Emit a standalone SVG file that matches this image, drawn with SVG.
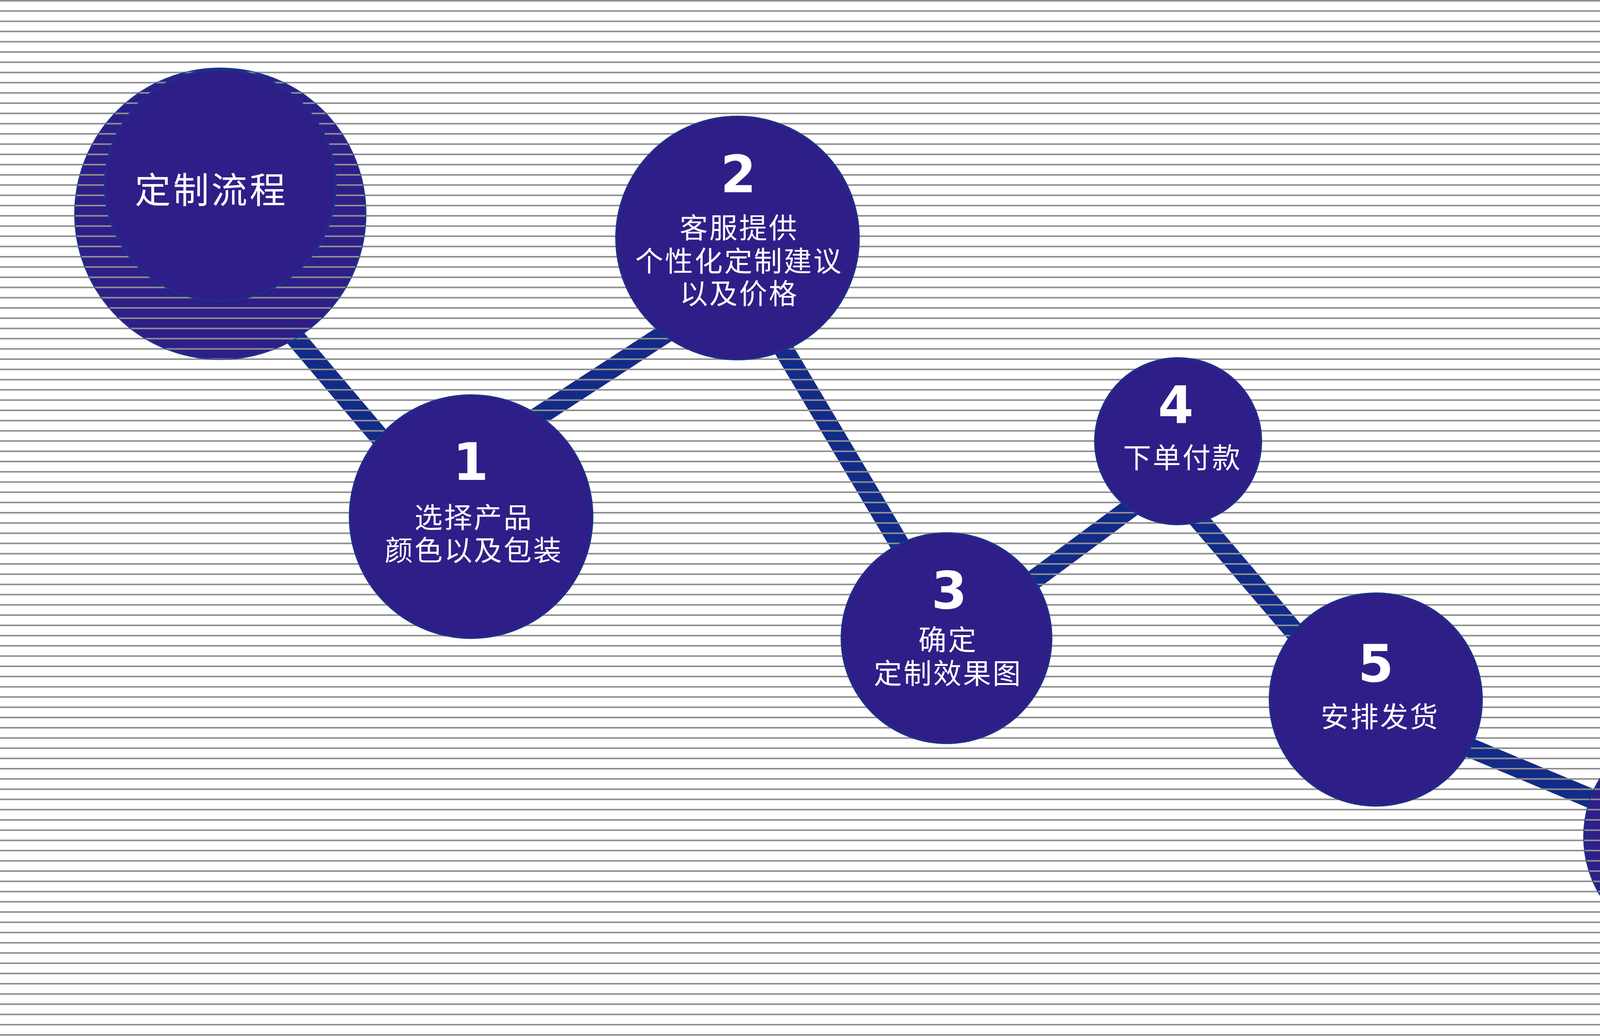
<svg xmlns="http://www.w3.org/2000/svg" xmlns:xlink="http://www.w3.org/1999/xlink" width="4785" height="2651" viewBox="0 0 4785 2651">
<style>
.conn{stroke:#132b88;stroke-width:50;stroke-linecap:butt;fill:none}
.disc{fill:#2e1f88;stroke:#1c3189;stroke-width:4}
.stripe{stroke:#8f8f8f;stroke-width:4;fill:none}
.stripe2{stroke:#d4d4d4;stroke-width:1.2;fill:none}
.num{font-family:"DejaVu Sans",Verdana,sans-serif;font-weight:bold;font-size:131px;fill:#ffffff;text-anchor:middle}
.lbl{font-family:"Noto Sans CJK SC","Noto Sans",sans-serif;font-size:72px;letter-spacing:4px;fill:#ffffff;text-anchor:middle}
.ttl{font-family:"Noto Sans CJK SC","Noto Sans",sans-serif;font-size:92px;letter-spacing:6px;fill:#ffffff;text-anchor:middle}
</style>
<defs>
<g id="stripes">
<path class="stripe" d="M0 2H4785M0 28.2H4785M0 54.4H4785M0 80.6H4785M0 106.8H4785M0 133H4785M0 159.2H4785M0 185.4H4785M0 211.6H4785M0 237.8H4785M0 264H4785M0 290.2H4785M0 316.4H4785M0 342.6H4785M0 368.8H4785M0 395H4785M0 421.2H4785M0 447.4H4785M0 473.6H4785M0 499.8H4785M0 526H4785M0 552.2H4785M0 578.4H4785M0 604.6H4785M0 630.8H4785M0 657H4785M0 683.2H4785M0 709.4H4785M0 735.6H4785M0 761.8H4785M0 788H4785M0 814.2H4785M0 840.4H4785M0 866.6H4785M0 892.8H4785M0 919H4785M0 945.2H4785M0 971.4H4785M0 997.6H4785M0 1023.8H4785M0 1050H4785M0 1076.2H4785M0 1102.4H4785M0 1128.6H4785M0 1154.8H4785M0 1181H4785M0 1207.2H4785M0 1233.4H4785M0 1259.6H4785M0 1285.8H4785M0 1312H4785M0 1338.2H4785M0 1364.4H4785M0 1390.6H4785M0 1416.8H4785M0 1443H4785M0 1469.2H4785M0 1495.4H4785M0 1521.6H4785M0 1547.8H4785M0 1574H4785M0 1600.2H4785M0 1626.4H4785M0 1652.6H4785M0 1678.8H4785M0 1705H4785M0 1731.2H4785M0 1757.4H4785M0 1783.6H4785M0 1809.8H4785M0 1836H4785M0 1862.2H4785M0 1888.4H4785M0 1914.6H4785M0 1940.8H4785M0 1967H4785M0 1993.2H4785M0 2019.4H4785M0 2045.6H4785M0 2071.8H4785M0 2098H4785M0 2124.2H4785M0 2150.4H4785M0 2176.6H4785M0 2202.8H4785M0 2229H4785M0 2255.2H4785M0 2281.4H4785M0 2307.6H4785M0 2333.8H4785M0 2360H4785M0 2386.2H4785M0 2412.4H4785M0 2438.6H4785M0 2464.8H4785M0 2491H4785M0 2517.2H4785M0 2543.4H4785M0 2569.6H4785M0 2595.8H4785M0 2622H4785M0 2648.2H4785"/>
</g>
<clipPath id="clipStart"><circle cx="564" cy="547" r="372"/></clipPath>
<clipPath id="clipEnd"><circle cx="4343" cy="2141" r="288"/></clipPath>
</defs>
<rect x="0" y="0" width="4785" height="2651" fill="#ffffff"/>
<g id="connectors">
<line class="conn" x1="700" y1="797.7" x2="1150" y2="1328.7"/>
<line class="conn" x1="1300" y1="1116.4" x2="1800" y2="790.4"/>
<line class="conn" x1="1855.3" y1="640" x2="2426.5" y2="1600"/>
<line class="conn" x1="2450" y1="1629" x2="2950" y2="1258.5"/>
<line class="conn" x1="3000.6" y1="1250" x2="3428" y2="1750"/>
<line class="conn" x1="3600" y1="1845.2" x2="4200" y2="2096.4"/>
</g>
<g id="background-stripes">
<use xlink:href="#stripes"/>
</g>
<g id="node-start">
<circle class="disc" cx="564" cy="547" r="372"/>
<use xlink:href="#stripes" clip-path="url(#clipStart)"/>
<circle class="disc" cx="564" cy="474" r="296"/>
<text class="ttl" x="541" y="520">定制流程</text>
</g>
<g id="node-1">
<circle class="disc" cx="1206" cy="1322" r="311"/>
<text class="num" x="1205" y="1228">1</text>
<text class="lbl" x="1213" y="1350">选择产品</text>
<text class="lbl" x="1213" y="1434">颜色以及包装</text>
</g>
<g id="node-2">
<circle class="disc" cx="1888" cy="609" r="311"/>
<text class="num" x="1890" y="492">2</text>
<text class="lbl" x="1892" y="609">客服提供</text>
<text class="lbl" x="1892" y="694">个性化定制建议</text>
<text class="lbl" x="1892" y="777">以及价格</text>
</g>
<g id="node-3">
<circle class="disc" cx="2423" cy="1633" r="269"/>
<text class="num" x="2430" y="1557">3</text>
<text class="lbl" x="2427" y="1663">确定</text>
<text class="lbl" x="2427" y="1749">定制效果图</text>
</g>
<g id="node-4">
<circle class="disc" cx="3016" cy="1129" r="213"/>
<text class="num" x="3010" y="1083">4</text>
<text class="lbl" x="3027" y="1197">下单付款</text>
</g>
<g id="node-5">
<circle class="disc" cx="3522" cy="1790" r="272"/>
<text class="num" x="3522" y="1744">5</text>
<text class="lbl" x="3533" y="1860">安排发货</text>
</g>
<g id="node-end">
<circle class="disc" cx="4343" cy="2141" r="288"/>
<use xlink:href="#stripes" clip-path="url(#clipEnd)"/>
<circle class="disc" cx="4343" cy="2084" r="230"/>
<text class="ttl" x="4339.5" y="2115">定制完成</text>
</g>
</svg>
